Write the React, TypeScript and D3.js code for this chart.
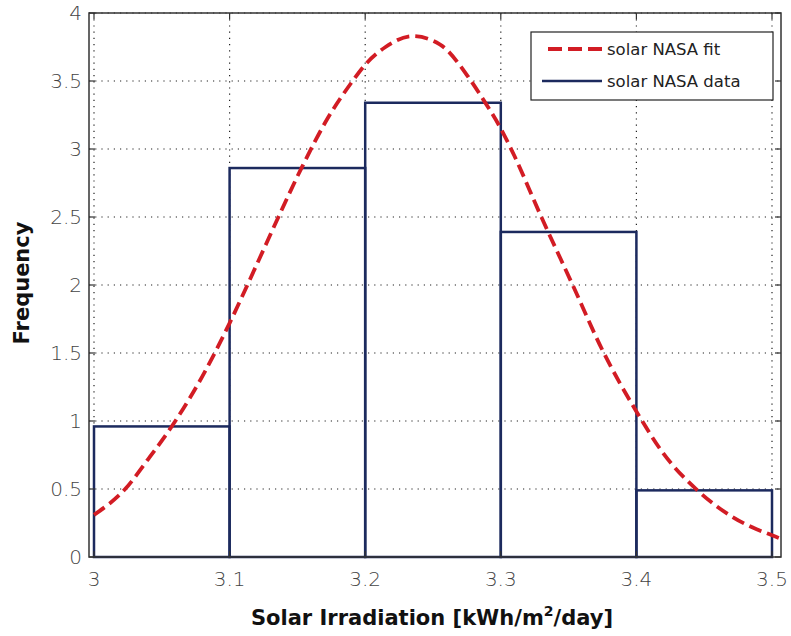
import React from "react";
import * as d3 from "d3";

const binEdges = [3.0, 3.1, 3.2, 3.3, 3.4, 3.5];
const binHeights = [0.96, 2.86, 3.34, 2.39, 0.49];
const fitX = [3.0, 3.023, 3.04, 3.06, 3.08, 3.1, 3.12, 3.136, 3.154, 3.172, 3.19, 3.2, 3.215, 3.235, 3.255, 3.276, 3.286, 3.3, 3.31, 3.329, 3.353, 3.375, 3.4, 3.42, 3.445, 3.47, 3.485, 3.5, 3.505];
const fitY = [0.31, 0.5, 0.72, 1.0, 1.33, 1.72, 2.15, 2.5, 2.88, 3.22, 3.49, 3.62, 3.75, 3.83, 3.77, 3.53, 3.38, 3.15, 2.95, 2.52, 2.0, 1.52, 1.07, 0.76, 0.49, 0.3, 0.22, 0.16, 0.14];
const xTicks = [3, 3.1, 3.2, 3.3, 3.4, 3.5];
const yTicks = [0, 0.5, 1, 1.5, 2, 2.5, 3, 3.5, 4];
const seriesNames = ["solar NASA fit", "solar NASA data"];

const W = 791, H = 636;
const L = 89, R = 781, T = 13, B = 557;
const RED = "#d21c24";
const NAVY = "#1c2a5e";
const FONT = "'DejaVu Sans', Verdana, sans-serif";

export default function App() {
  const x = d3.scaleLinear().domain([3, 3.5]).range([94, 772]);
  const y = d3.scaleLinear().domain([0, 4]).range([B, T]);
  const line = d3.line<number>().x((d, i) => x(fitX[i])).y((d) => y(d)).curve(d3.curveMonotoneX);
  const fmt = (v: number) => String(v);
  return (
    <svg width={W} height={H} style={{ position: "absolute", left: 0, top: 0, background: "#fff" }}>
      <rect x={0} y={0} width={W} height={H} fill="#fff" />
      {yTicks.slice(1).map((t) => (
        <line key={"gy" + t} x1={L} x2={R} y1={y(t)} y2={y(t)} stroke="#222" strokeWidth={1.2} strokeDasharray="1.2,5" />
      ))}
      {xTicks.map((t) => (
        <line key={"gx" + t} x1={x(t)} x2={x(t)} y1={T} y2={B} stroke="#222" strokeWidth={1.2} strokeDasharray="1.2,5" />
      ))}
      {binHeights.map((h, i) => (
        <rect key={"b" + i} x={x(binEdges[i])} y={y(h)} width={x(binEdges[i + 1]) - x(binEdges[i])} height={y(0) - y(h)} fill="none" stroke={NAVY} strokeWidth={2.5} />
      ))}
      <path d={line(fitY) || ""} fill="none" stroke={RED} strokeWidth={3.8} strokeDasharray="13,6" />
      <rect x={L} y={T} width={R - L} height={B - T} fill="none" stroke="#333" strokeWidth={1.5} />
      {xTicks.map((t) => (
        <g key={"tx" + t}>
          <line x1={x(t)} x2={x(t)} y1={B} y2={B - 6} stroke="#333" strokeWidth={1.2} />
          <line x1={x(t)} x2={x(t)} y1={T} y2={T + 6} stroke="#333" strokeWidth={1.2} />
          <text x={x(t)} y={586} textAnchor="middle" fontFamily={FONT} fontSize={20} fontWeight={300} fill="#444">{fmt(t)}</text>
        </g>
      ))}
      {yTicks.map((t) => (
        <g key={"ty" + t}>
          <line x1={L} x2={L + 6} y1={y(t)} y2={y(t)} stroke="#333" strokeWidth={1.2} />
          <line x1={R} x2={R - 6} y1={y(t)} y2={y(t)} stroke="#333" strokeWidth={1.2} />
          <text x={82} y={y(t) + 7} textAnchor="end" fontFamily={FONT} fontSize={20} fontWeight={300} fill="#444">{fmt(t)}</text>
        </g>
      ))}
      <text x={432} y={625} textAnchor="middle" fontFamily={FONT} fontSize={21} fontWeight="bold" fill="#111">
        Solar Irradiation [kWh/m<tspan dy={-9} fontSize={14}>2</tspan><tspan dy={9}>/day]</tspan>
      </text>
      <text transform="translate(29,283) rotate(-90)" textAnchor="middle" fontFamily={FONT} fontSize={21} fontWeight="bold" fill="#111">Frequency</text>
      <rect x={531} y={32} width={242} height={68} fill="#fff" stroke="#222" strokeWidth={1.2} />
      <line x1={548} x2={602} y1={49} y2={49} stroke={RED} strokeWidth={3.8} strokeDasharray="14,6" />
      <line x1={542} x2={602} y1={81} y2={81} stroke={NAVY} strokeWidth={2.5} />
      <text x={607} y={55} fontFamily={FONT} fontSize={16.5} fill="#222">{seriesNames[0]}</text>
      <text x={607} y={87} fontFamily={FONT} fontSize={16.5} fill="#222">{seriesNames[1]}</text>
    </svg>
  );
}
